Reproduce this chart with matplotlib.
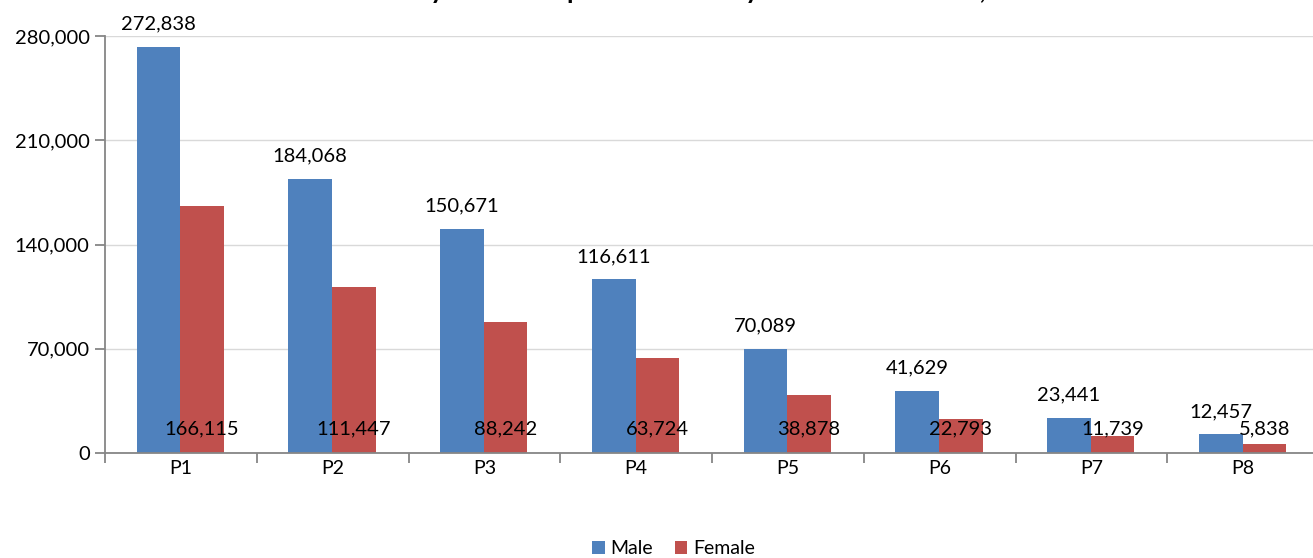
import numpy as np
import matplotlib
matplotlib.use("Agg")
import matplotlib.pyplot as plt
from matplotlib.ticker import FuncFormatter, FixedLocator

plt.rcParams["font.family"] = ["Lato", "DejaVu Sans"]

grades = ["P1", "P2", "P3", "P4", "P5", "P6", "P7", "P8"]
male = [272838, 184068, 150671, 116611, 70089, 41629, 23441, 12457]
female = [166115, 111447, 88242, 63724, 38878, 22793, 11739, 5838]

MALE_C = "#4F81BD"
FEMALE_C = "#C0504D"
AXIS_C = "#868686"
GRID_C = "#D9D9D9"

W, H = 1313, 558
fig = plt.figure(figsize=(W / 100, H / 100), dpi=100)
ax = fig.add_axes([105 / W, 1 - 453 / H, 1214 / W, 417 / H])

x = np.arange(len(grades))
bw = 0.287
b1 = ax.bar(x - bw / 2 - 0.004, male, bw, color=MALE_C, label="Male", zorder=2)
b2 = ax.bar(x + bw / 2 - 0.004, female, bw, color=FEMALE_C, label="Female", zorder=2)

# value labels: male above the bar, female near the base
for rect, v in zip(b1, male):
    ax.annotate(f"{v:,}", (rect.get_x() + rect.get_width() / 2, v),
                xytext=(0, 16.5), textcoords="offset points",
                ha="center", va="center", fontsize=14.5, zorder=3)
for rect, v in zip(b2, female):
    ax.annotate(f"{v:,}", (rect.get_x() + rect.get_width() / 2, 0),
                xytext=(0, 17.3), textcoords="offset points",
                ha="center", va="center", fontsize=14.5, zorder=3)

ax.set_xlim(-0.5, len(grades) - 0.5)
ax.set_ylim(0, 280000)
ax.set_yticks(np.arange(0, 280001, 70000))
ax.yaxis.set_major_formatter(FuncFormatter(lambda v, p: f"{int(v):,}"))
ax.grid(axis="y", color=GRID_C, linewidth=1, zorder=0)

ax.set_xticks(x)
ax.set_xticklabels(grades)
ax.xaxis.set_minor_locator(FixedLocator(np.arange(-0.5, len(grades), 1)))
ax.tick_params(axis="x", which="major", length=0, pad=5, labelsize=14)
ax.tick_params(axis="x", which="minor", length=7, color=AXIS_C, width=1.3)
ax.tick_params(axis="y", length=7, color=AXIS_C, width=1.3, pad=4, labelsize=14.5)

for s in ("top", "right"):
    ax.spines[s].set_visible(False)
for s in ("left", "bottom"):
    ax.spines[s].set_color(AXIS_C)
    ax.spines[s].set_linewidth(1.3)

# title sits mostly above the canvas; only its descenders show
fig.text(0.535, 1 + 1 / H, "Primary School Pupil Enrolment by Grade and Gender, 2007",
         ha="center", va="baseline", fontsize=19, fontweight="bold")

fig.legend(loc="center", bbox_to_anchor=(0.513, 1 - 549 / H), ncol=2, frameon=False,
           fontsize=14, handlelength=0.65, handleheight=0.65, handletextpad=0.3,
           columnspacing=1.1, borderpad=0)

fig.savefig("out.png", dpi=100)
